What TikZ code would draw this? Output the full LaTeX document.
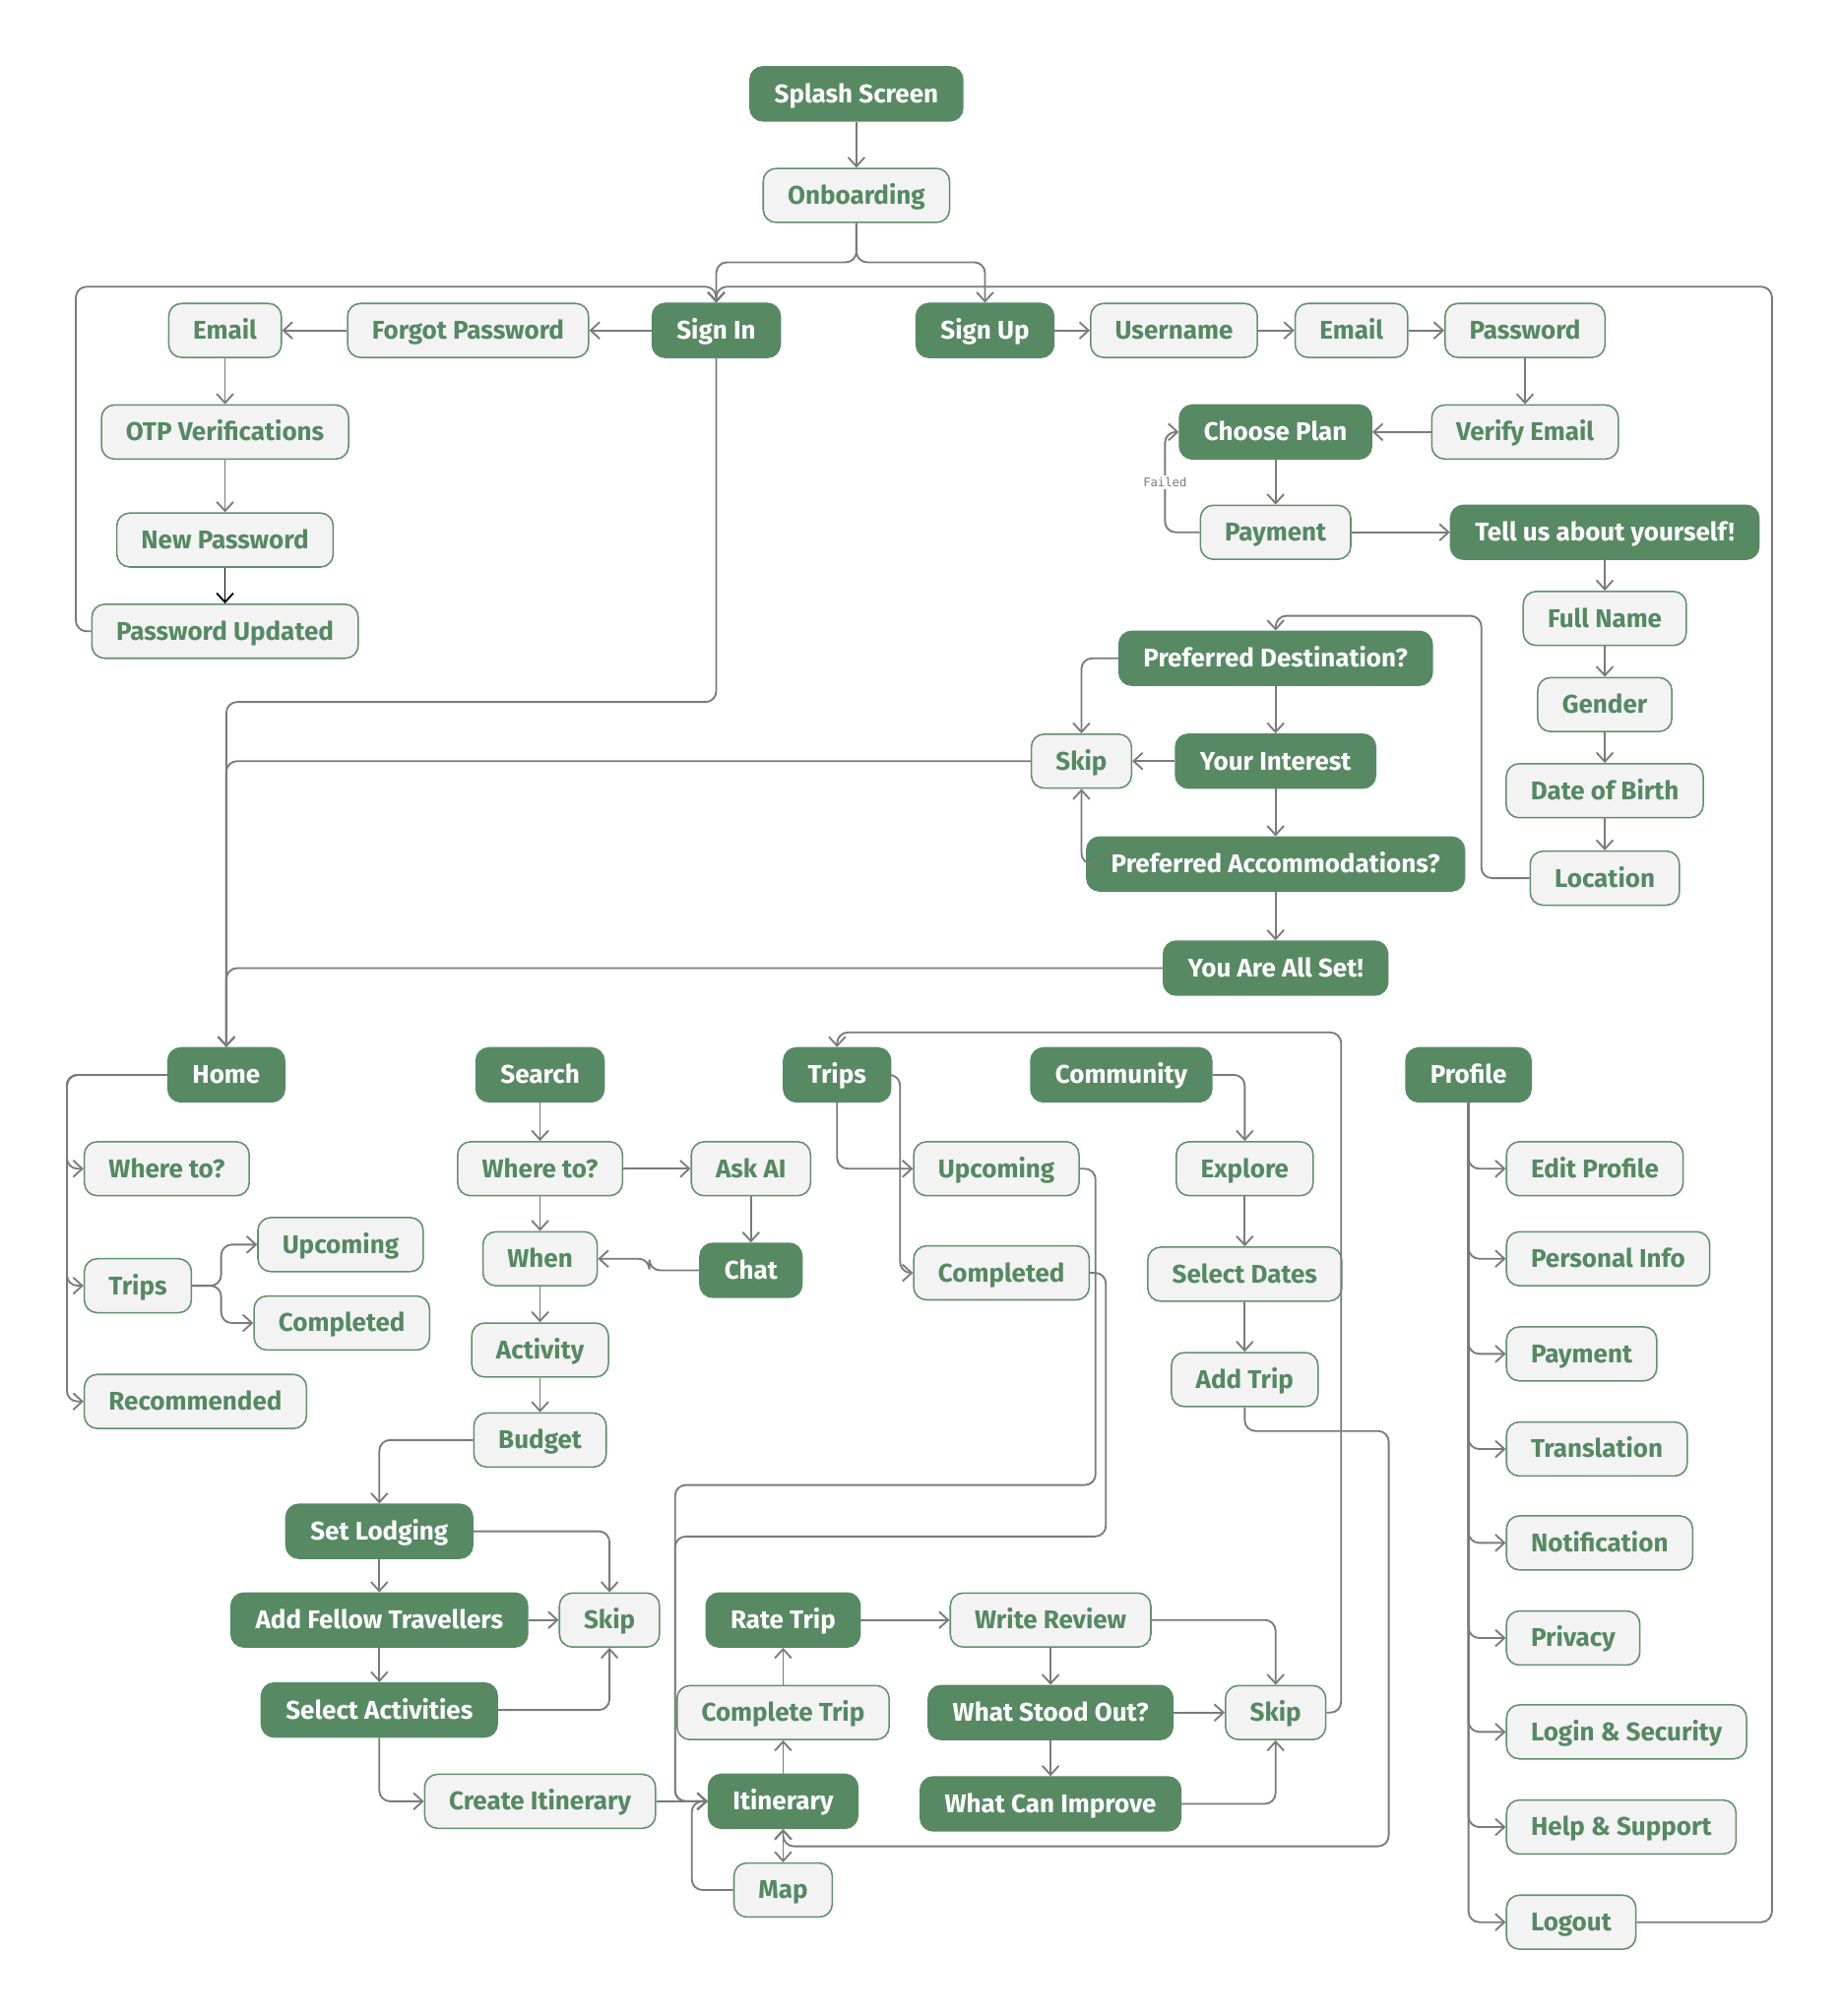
\documentclass[tikz,border=0pt]{standalone}
\usepackage{fontspec}
\setmainfont{Fira Sans}
\newfontfamily\monofont{DejaVu Sans Mono}
\usetikzlibrary{arrows.meta}
\definecolor{boxgreen}{RGB}{87,137,99}
\definecolor{boxgray}{RGB}{243,243,243}
\definecolor{boxline}{RGB}{96,144,108}
\definecolor{txtgreen}{RGB}{85,137,98}
\definecolor{linegray}{RGB}{122,122,122}

\begin{document}
\begin{tikzpicture}[x=0.03cm,y=-0.03cm,
    base/.style={rounded corners=0.3cm,minimum height=1.26cm,inner xsep=0.57cm,line width=1pt,
      text height=12.2pt,text depth=0.5pt,font=\fontsize{17}{20}\selectfont\bfseries},
    dark/.style={base,fill=boxgreen,draw=boxgreen,text=white},
    light/.style={base,fill=boxgray,draw=boxline,text=txtgreen},
    flow/.style={draw=linegray,line width=1.2pt,rounded corners=0.25cm,-{Straight Barb[length=6pt,width=11pt]}},
    both/.style={flow,{Straight Barb[length=6pt,width=11pt]}-{Straight Barb[length=6pt,width=11pt]}}]
    \useasboundingbox (0,0) rectangle (1431,1568);
    % onboarding and sign in / sign up
    \node[dark](splash)at (666,73){Splash Screen};
    \node[light](onb)at (666,152){Onboarding};
    \node[dark](signin)at (557,257){Sign In};
    \node[dark](signup)at (766,257){Sign Up};
    \node[light](user)at (913,257){Username};
    \node[light](mailup)at (1051,257){Email};
    \node[light](pass)at (1186,257){Password};
    \node[light](forgot)at (364,257){Forgot Password};
    \node[light](mailin)at (175,257){Email};
    \node[light](otp)at (175,336){OTP Verifications};
    \node[light](newpass)at (175,420){New Password};
    \node[light](passok)at (175,491){Password Updated};
    \node[light](verify)at (1186,336){Verify Email};
    \node[dark](plan)at (992,336){Choose Plan};
    \node[light](pay)at (992,414){Payment};
    \node[dark](tell)at (1248,414){Tell us about yourself!};
    \node[light](fullname)at (1248,481){Full Name};
    \node[light](gender)at (1248,548){Gender};
    \node[light](dob)at (1248,615){Date of Birth};
    \node[light](loc)at (1248,683){Location};
    \node[dark](dest)at (992,512){Preferred Destination?};
    \node[dark](interest)at (992,592){Your Interest};
    \node[light](skipa)at (841,592){Skip};
    \node[dark](accom)at (992,672){Preferred Accommodations?};
    \node[dark](allset)at (992,753){You Are All Set!};
    % main tabs
    \node[dark](home)at (176,836){Home};
    \node[dark](search)at (420,836){Search};
    \node[dark](trips)at (651,836){Trips};
    \node[dark](comm)at (872,836){Community};
    \node[dark](profile)at (1142,836){Profile};
    % home
    \node[light,anchor=west](hwhere)at (65,909){Where to?};
    \node[light,anchor=west](htrips)at (65,1000){Trips};
    \node[light,anchor=west](hup)at (200,968){Upcoming};
    \node[light,anchor=west](hdone)at (197,1029){Completed};
    \node[light,anchor=west](hrec)at (65,1090){Recommended};
    % search
    \node[light](swhere)at (420,909){Where to?};
    \node[light](askai)at (584,909){Ask AI};
    \node[light](when)at (420,979){When};
    \node[dark](chat)at (584,988){Chat};
    \node[light](activity)at (420,1050){Activity};
    \node[light](budget)at (420,1120){Budget};
    \node[dark](lodging)at (295,1191){Set Lodging};
    \node[dark](fellow)at (295,1260){Add Fellow Travellers};
    \node[light](skipb)at (474,1260){Skip};
    \node[dark](selact)at (295,1330){Select Activities};
    \node[light](create)at (420,1401){Create Itinerary};
    % trips
    \node[light,anchor=west](tup)at (710,909){Upcoming};
    \node[light,anchor=west](tdone)at (710,990){Completed};
    \node[dark](rate)at (609,1260){Rate Trip};
    \node[light](review)at (817,1260){Write Review};
    \node[light](complete)at (609,1332){Complete Trip};
    \node[dark](stood)at (817,1332){What Stood Out?};
    \node[light](skipc)at (992,1332){Skip};
    \node[dark](itin)at (609,1401){Itinerary};
    \node[dark](improve)at (817,1403){What Can Improve};
    \node[light](map)at (609,1470){Map};
    % community
    \node[light](explore)at (968,909){Explore};
    \node[light](dates)at (968,991){Select Dates};
    \node[light](addtrip)at (968,1073){Add Trip};
    % profile
    \foreach \name/\txt/\y in {edit/Edit Profile/909,personal/Personal Info/979,ppay/Payment/1053,
        trans/Translation/1127,notif/Notification/1200,privacy/Privacy/1274,
        login/Login \& Security/1347,help/Help \& Support/1421,logout/Logout/1495}{
      \node[light,anchor=west](\name)at (1171,\y){\txt};
      \draw[flow](profile.south)|-(\name.west);
    }
    % connectors: onboarding
    \draw[flow](splash)--(onb);
    \draw[flow](onb.south)--(666,204)-|(signin.north);
    \draw[flow](onb.south)--(666,204)-|(signup.north);
    \draw[flow](signin)--(forgot);
    \draw[flow](forgot)--(mailin);
    \draw[flow](mailin)--(otp);
    \draw[flow](otp)--(newpass);
    \draw[flow,draw=black](newpass)--(passok);
    \draw[flow](passok.west)-|(59,223)-|(signin.north);
    \draw[flow](logout.east)-|(1378,223)-|(signin.north);
    \draw[flow](signup)--(user);
    \draw[flow](user)--(mailup);
    \draw[flow](mailup)--(pass);
    \draw[flow](pass)--(verify);
    \draw[flow](verify)--(plan);
    \draw[flow](plan)--(pay);
    \draw[flow](pay.west)--(906,414)|-(plan.west);
    \node[font=\monofont\fontsize{8}{9}\selectfont,text=linegray,fill=white,inner sep=1.5pt](failed)at (906,375){Failed};
    \draw[flow](pay)--(tell);
    \draw[flow](tell)--(fullname);
    \draw[flow](fullname)--(gender);
    \draw[flow](gender)--(dob);
    \draw[flow](dob)--(loc);
    \draw[flow](loc.west)-|(1152,479)-|(dest.north);
    \draw[flow](dest)--(interest);
    \draw[flow](interest)--(accom);
    \draw[flow](accom)--(allset);
    \draw[flow](dest.west)-|(skipa.north);
    \draw[flow](interest)--(skipa);
    \draw[flow](accom.west)-|(skipa.south);
    \draw[flow](signin.south)|-(176,546)--(home.north);
    \draw[flow](skipa.west)-|(home.north);
    \draw[flow](allset.west)-|(home.north);
    % connectors: home
    \foreach \c in {hwhere,htrips,hrec}\draw[flow](home.west)--(52,836)|-(\c.west);
    \foreach \c in {hup,hdone}\draw[flow](htrips.east)--(172,1000)|-(\c.west);
    % connectors: search
    \draw[flow](search)--(swhere);
    \draw[flow](swhere)--(askai);
    \draw[flow](askai)--(chat);
    \draw[flow](chat.west)-|(505,979)--(when.east);
    \draw[flow](swhere)--(when);
    \draw[flow](when)--(activity);
    \draw[flow](activity)--(budget);
    \draw[flow](budget.west)-|(lodging.north);
    \draw[flow](lodging)--(fellow);
    \draw[flow](fellow)--(selact);
    \draw[flow](lodging.east)-|(skipb.north);
    \draw[flow](fellow)--(skipb);
    \draw[flow](selact.east)-|(skipb.south);
    \draw[flow](selact.south)|-(create.west);
    \draw[flow](create)--(itin);
    % connectors: trips
    \draw[flow](trips.south)|-(tup.west);
    \draw[flow](trips.east)--(700,836)|-(tdone.west);
    \draw[flow](tup.east)-|(852,1155)-|(525,1401)--(itin.west);
    \draw[flow](tdone.east)-|(860,1195)-|(525,1401)--(itin.west);
    \draw[flow](map.west)-|(538,1401)--(itin.west);
    \draw[both](itin)--(map);
    \draw[flow](itin)--(complete);
    \draw[flow](complete)--(rate);
    \draw[flow](rate)--(review);
    \draw[flow](review)--(stood);
    \draw[flow](review.east)-|(skipc.north);
    \draw[flow](stood)--(skipc);
    \draw[flow](stood)--(improve);
    \draw[flow](improve.east)-|(skipc.south);
    \draw[flow](skipc.east)-|(1043,803)-|(trips.north);
    % connectors: community
    \draw[flow](comm.east)-|(explore.north);
    \draw[flow](explore)--(dates);
    \draw[flow](dates)--(addtrip);
    \draw[flow](addtrip.south)|-(1080,1113)--(1080,1436)-|(itin.south);
\end{tikzpicture}
\end{document}
